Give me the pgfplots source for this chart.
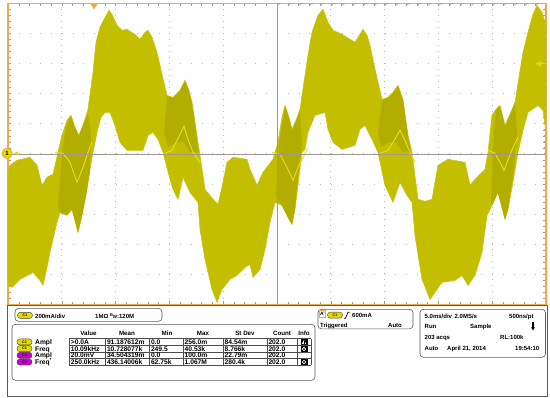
\documentclass[border=0pt]{standalone}
\usepackage{fontspec}
\setmainfont{Liberation Sans}
\usepackage{pgfplots}
\usepackage{pgfplotstable}
\pgfplotsset{compat=1.18}
\definecolor{scopeorange}{RGB}{240,170,75}
\definecolor{band}{RGB}{196,190,0}
\definecolor{banddark}{RGB}{179,173,0}
\definecolor{bright}{RGB}{230,224,28}
\definecolor{griddot}{RGB}{188,188,188}
\definecolor{cline}{RGB}{160,152,140}
\definecolor{pillyellow}{RGB}{228,218,0}
\definecolor{pillmag}{RGB}{205,0,205}
\definecolor{boxline}{RGB}{90,90,90}

% envelope of the persistence trace in screen pixels (x: 8..546, y: 1..302 from top):
% upper edge left to right, then lower edge right to left
\pgfplotstableread{
px py
8 170
10 163
17 158
30 155
37 163
42 183
47 175
53 172
58 150
62 133
67 118
71 113
75 125
79 133
84 120
88 107
93 70
96 40
100 25
104 17
109 8
112 12
117 23
122 28
127 27
135 32
140 37
145 30
148 28
152 35
157 50
162 72
167 93
173 95
180 88
185 78
189 88
192 100
195 120
200 153
205 187
213 197
218 202
222 185
227 160
233 155
247 157
250 167
257 183
263 170
273 157
278 140
282 115
285 103
289 115
292 127
296 118
300 107
304 80
308 53
312 30
318 13
323 7
328 20
333 28
342 32
350 37
355 40
360 32
363 27
367 33
370 43
375 67
382 97
388 95
393 90
398 83
403 97
408 133
412 150
418 197
425 199
432 197
438 163
448 157
465 160
470 183
475 177
485 167
488 150
492 113
496 107
500 103
505 123
510 112
515 100
519 75
523 50
528 30
533 12
537 3
542 10
546 23
546 130
543 108
538 103
528 110
523 128
518 150
513 180
508 207
505 217
498 190
492 203
487 213
482 250
475 273
468 283
462 273
455 278
442 280
435 290
430 297
422 277
415 233
412 200
407 193
400 180
393 200
385 183
378 150
372 137
365 123
360 127
355 143
342 147
333 140
328 127
325 110
315 113
312 120
308 130
305 147
302 150
295 207
292 222
288 215
282 203
275 200
270 220
265 247
260 267
253 275
250 262
245 265
237 273
230 277
222 287
217 300
212 287
205 257
200 227
198 200
190 190
183 175
178 197
173 187
170 177
163 150
158 137
153 130
148 133
143 148
127 148
120 140
115 123
110 110
105 110
101 115
97 130
93 150
87 183
82 213
78 230
76 222
72 207
67 213
60 210
57 220
50 250
47 265
43 283
40 278
33 270
20 277
12 285
8 283
}\envelope

\begin{document}
\begin{tikzpicture}[x=1pt,y=1pt]
\fill[white] (0,0) rectangle (550,-395);
\begin{axis}[
  at={(8pt,-302pt)}, anchor=south west,
  scale only axis, width=538pt, height=301pt,
  xmin=-25, xmax=25, ymin=-1000, ymax=1000,
  xtick={-25,-20,...,25}, ytick={-1000,-800,...,1000},
  minor x tick num=4, minor y tick num=4,
  xticklabels={}, yticklabels={},
  tick align=inside, tick pos=both,
  major tick length=3pt, minor tick length=2.5pt,
  tick style={cline, line width=0.5pt},
  grid=major,
  major x grid style={griddot, line width=0.8pt, dash pattern=on 0.8pt off 5.22pt},
  major y grid style={griddot, line width=0.8pt, dash pattern=on 0.8pt off 9.96pt},
  axis line style={draw=scopeorange, line width=1.6pt},
  table/x expr={(\thisrow{px}-277)*50/538},
  table/y expr={(151.5-\thisrow{py})*2000/301},
]
\addplot[fill=band, draw=band!92!white, line width=0.6pt] table {\envelope} -- cycle;

% darker persistence regions
\addplot[fill=banddark, draw=none] table[row sep=\\] {px py\\ 58 205\\ 62 150\\ 66 125\\ 71 114\\ 75 126\\ 79 134\\ 84 121\\ 88 112\\ 91 130\\ 90 170\\ 86 195\\ 82 213\\ 78 230\\ 76 222\\ 72 207\\ 67 213\\ 60 210\\} -- cycle;
\addplot[fill=banddark, draw=none] table[row sep=\\] {px py\\ 164 130\\ 167 94\\ 173 96\\ 180 89\\ 185 79\\ 189 89\\ 192 101\\ 195 121\\ 198 150\\ 190 150\\ 184 140\\ 176 140\\ 168 145\\} -- cycle;
\addplot[fill=banddark, draw=none] table[row sep=\\] {px py\\ 276 195\\ 279 140\\ 283 118\\ 285 104\\ 289 116\\ 292 128\\ 296 119\\ 300 110\\ 302 140\\ 298 175\\ 295 207\\ 292 222\\ 288 215\\ 282 203\\} -- cycle;
\addplot[fill=banddark, draw=none] table[row sep=\\] {px py\\ 378 130\\ 382 98\\ 388 96\\ 393 91\\ 398 84\\ 403 98\\ 408 134\\ 411 150\\ 403 150\\ 396 140\\ 388 140\\ 381 145\\} -- cycle;
\addplot[fill=banddark, draw=none] table[row sep=\\] {px py\\ 491 200\\ 493 140\\ 496 108\\ 500 104\\ 505 124\\ 510 113\\ 515 101\\ 517 130\\ 514 165\\ 508 207\\ 505 217\\ 498 190\\ 492 203\\} -- cycle;

% bright trace
\addplot[bright, line width=0.9pt] table[row sep=\\] {px py\\ 55 150\\ 63 151\\ 70 160\\ 77 180\\ 83 165\\ 88 150\\ 92 140\\};
\addplot[bright, line width=0.9pt] table[row sep=\\] {px py\\ 165 151\\ 172 148\\ 180 132\\ 184 124\\ 188 137\\ 193 150\\ 200 160\\};
\addplot[bright, line width=0.9pt] table[row sep=\\] {px py\\ 272 150\\ 280 152\\ 287 165\\ 293 178\\ 298 165\\ 303 155\\ 308 145\\};
\addplot[bright, line width=0.9pt] table[row sep=\\] {px py\\ 380 151\\ 388 148\\ 396 135\\ 400 128\\ 405 138\\ 410 150\\ 415 160\\};
\addplot[bright, line width=0.9pt] table[row sep=\\] {px py\\ 488 148\\ 495 151\\ 500 160\\ 504 168\\ 509 155\\ 514 143\\ 518 135\\};

% centre graticule with fine ticks
\draw[cline, line width=0.6pt] (axis cs:-25,0) -- (axis cs:25,0);
\draw[cline, line width=0.6pt] (axis cs:0,-1000) -- (axis cs:0,1000);
\pgfplotsinvokeforeach{-25,...,25}{\draw[cline, line width=0.5pt] (axis cs:#1,0) ++(0,-2pt) -- ++(0,4pt);}
\pgfplotsinvokeforeach{-1000,-960,...,1000}{\draw[cline, line width=0.5pt] (axis cs:0,#1) ++(-2pt,0) -- ++(4pt,0);}
\end{axis}

% channel 1 ground marker
\fill[pillyellow] (14,-151) -- (18,-149) -- (18,-153) -- cycle;
\draw[scopeorange, fill=pillyellow, line width=0.8pt] (7,-151) circle (5.2);
\node[font=\fontsize{6}{6}\selectfont\bfseries, inner sep=0pt] at (7,-151) {1};
% trigger position marker
\fill[scopeorange] (90,-1) -- (98,-1) -- (94,-7) -- cycle;
% trigger level marker
\fill[pillyellow] (535,-61.5) -- (541,-58.5) -- (541,-64.5) -- cycle;
\draw[pillyellow, line width=1pt] (540,-61.5) -- (546,-61.5);

% ---------- lower information panel ----------
\draw[boxline, line width=0.7pt] (7,-303.5) rectangle (547.5,-394);
\tikzset{
  pill/.style={rounded corners=2.8pt, draw=black!75, line width=0.4pt, minimum width=15pt, minimum height=6pt, inner sep=0pt, font=\fontsize{3.6}{4}\selectfont\bfseries},
  rbox/.style={rounded corners=3.5pt, draw=boxline, line width=0.6pt},
  txt/.style={anchor=base west, inner sep=0pt, font=\fontsize{6}{7}\selectfont\bfseries},
  tcell/.style={anchor=base west, inner sep=0pt, font=\fontsize{6.7}{7}\selectfont\bfseries},
  txc/.style={anchor=base, inner sep=0pt, font=\fontsize{6.2}{7}\selectfont\bfseries},
}
% box 1
\draw[rbox] (15,-306) rectangle (162,-319);
\node[pill, fill=pillyellow] at (25,-313) {C1};
\node[txt] at (35,-315.7) {200mA/div};
\node[txt] at (95,-315.7) {1MΩ \raisebox{1.2pt}{\fontsize{4}{4}\selectfont B}\raisebox{-0.6pt}{\fontsize{4.5}{4}\selectfont W}:120M};

% box 2: measurements
\draw[rbox] (12,-322) rectangle (315,-378);
\node[txc] at (88.5,-333) {Value};
\node[txc] at (127,-333) {Mean};
\node[txc] at (167,-333) {Min};
\node[txc] at (203,-333) {Max};
\node[txc] at (245,-333) {St Dev};
\node[txc] at (282,-333) {Count};
\node[txc] at (304,-333) {Info};
\foreach \yy in {336.3,343,349.7,356.3,363} {\draw[black!70, line width=0.4pt] (69.3,-\yy) -- (311,-\yy);}
\foreach \xx in {69.3,105.5,149.5,183,223,267,297,311} {\draw[black!70, line width=0.4pt] (\xx,-336.3) -- (\xx,-363);}
\node[pill, fill=pillyellow] at (24.5,-339.6) {C1};
\node[pill, fill=pillyellow] at (24.5,-346.3) {C1};
\node[pill, fill=pillmag] at (24.5,-353) {C3};
\node[pill, fill=pillmag] at (24.5,-359.7) {C3};
\node[tcell] at (35,-342) {Ampl};
\node[tcell] at (35,-348.7) {Freq};
\node[tcell] at (35,-355.3) {Ampl};
\node[tcell] at (35,-362) {Freq\textsuperscript{*}};
% row 1
\node[tcell] at (70.7,-342) {>0.0A};
\node[tcell] at (106.8,-342) {91.187612m};
\node[tcell] at (150.8,-342) {0.0};
\node[tcell] at (184.5,-342) {256.0m};
\node[tcell] at (224.5,-342) {84.54m};
\node[tcell] at (268.3,-342) {202.0};
% row 2
\node[tcell] at (70.7,-348.7) {10.09kHz};
\node[tcell] at (106.8,-348.7) {10.728077k};
\node[tcell] at (150.8,-348.7) {249.5};
\node[tcell] at (184.5,-348.7) {40.53k};
\node[tcell] at (224.5,-348.7) {8.766k};
\node[tcell] at (268.3,-348.7) {202.0};
% row 3
\node[tcell] at (70.7,-355.3) {20.0mV};
\node[tcell] at (106.8,-355.3) {34.504319m};
\node[tcell] at (150.8,-355.3) {0.0};
\node[tcell] at (184.5,-355.3) {100.0m};
\node[tcell] at (224.5,-355.3) {22.79m};
\node[tcell] at (268.3,-355.3) {202.0};
% row 4
\node[tcell] at (70.7,-362) {250.0kHz};
\node[tcell] at (106.8,-362) {436.14006k};
\node[tcell] at (150.8,-362) {62.75k};
\node[tcell] at (184.5,-362) {1.067M};
\node[tcell] at (224.5,-362) {280.4k};
\node[tcell] at (268.3,-362) {202.0};
% info icons
\fill[black] (300.5,-337.1) rectangle (307.5,-342.5);
\fill[white] (301.6,-341.9) -- (304,-337.7) -- (306.4,-341.9) -- cycle;
\fill[black] (303.6,-338.9) rectangle (304.4,-341.3);
\foreach \yy in {343.8,357.1} {
  \fill[black] (300.5,-\yy) rectangle (307.5,-\yy-5.4);
  \draw[white, line width=0.6pt] (304,-\yy-2.7) circle (1.9);
  \fill[white] (304,-\yy-2.7) circle (0.6);
}

% box 3: trigger
\draw[rbox] (318,-307) rectangle (413,-326.5);
\draw[scopeorange, line width=0.6pt, fill=white] (319.3,-308.3) rectangle (325.7,-315);
\node[inner sep=0pt, font=\fontsize{5}{5}\selectfont\bfseries] at (322.5,-311.7) {A'};
\node[pill, fill=pillyellow] at (335,-312.8) {C1};
\draw[black, line width=0.7pt] (344,-316) -- (345.5,-316) -- (348,-310) -- (349.5,-310);
\node[txt] at (352,-315.5) {600mA};
\node[txt] at (320,-325) {Triggered};
\node[txt] at (388,-325) {Auto};

% box 4: acquisition
\draw[rbox] (420,-307) rectangle (545.5,-355);
\node[txt] at (424.5,-315.7) {5.0ms/div};
\node[txt] at (454.5,-315.7) {2.0MS/s};
\node[txt] at (509,-315.7) {500ns/pt};
\node[txt] at (424.5,-326.5) {Run};
\node[txt] at (470,-326.5) {Sample};
\fill[black] (532.2,-320) rectangle (533.8,-326);
\fill[black] (531,-325) -- (535,-325) -- (533,-328) -- cycle;
\node[txt] at (424.5,-337.3) {203 acqs};
\node[txt] at (500,-337.3) {RL:100k};
\node[txt] at (424.5,-347.8) {Auto};
\node[txt] at (447,-347.8) {April 21, 2014};
\node[txt] at (515,-347.8) {19:54:10};
\end{tikzpicture}
\end{document}
